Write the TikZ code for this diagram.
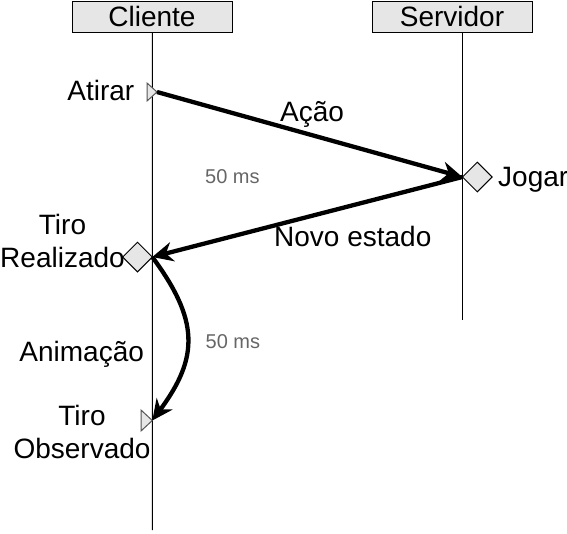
\documentclass[tikz,border=0pt]{standalone}
\usepackage{fontspec}
\setmainfont{Liberation Sans}
\usetikzlibrary{arrows.meta,shapes.geometric}
\definecolor{boxfill}{HTML}{E6E6E6}
\definecolor{msgray}{HTML}{666666}
\definecolor{triline}{HTML}{555555}
\tikzset{
  lbl/.style={font=\fontsize{28}{33}\selectfont, inner sep=0pt, align=center},
  msnote/.style={font=\fontsize{20}{24}\selectfont, text=msgray, inner sep=0pt},
  actor/.style={draw=black, fill=boxfill, minimum width=160pt, minimum height=31pt,
    inner sep=0pt, line width=1pt},
  lifeline/.style={line width=1pt},
  msg/.style={line width=4.3pt, -{Stealth[length=21pt,width=20pt,inset=7pt,line width=0pt]}},
  dia/.style={diamond, draw=black, fill=boxfill, minimum width=30pt, minimum height=30pt,
    inner sep=0pt, line width=1pt},
  tri/.style={draw=triline, fill=boxfill, line width=1pt, line join=miter}
}
\begin{document}
\begin{tikzpicture}[x=1pt,y=-1pt]
\useasboundingbox (0,0) rectangle (567,533);

% actors
\node[actor] (cli) at (152.4,17) {};
\node[actor] (srv) at (452.4,17) {};
\node[lbl, anchor=base] (clitext) at (152,26) {Cliente};
\node[lbl, anchor=base] (srvtext) at (452,26) {Servidor};

% lifelines
\coordinate (clibot) at (152.3,530);
\coordinate (srvtop) at (462.3,32.5);
\coordinate (srvbot) at (462.3,320);
\draw[lifeline] (cli.south) -- (clibot);
\draw[lifeline] (srvtop) -- (srvbot);

% events
\coordinate (atirar) at (157,92);
\coordinate (jogarpt) at (462.3,177);
\coordinate (realpt) at (152.3,257);
\coordinate (obspt) at (152.3,420.5);

\draw[tri] (147,83) -- (atirar) -- (147,101) -- cycle;
\draw[tri] (141,410) -- (obspt) -- (141,431) -- cycle;

% messages
\draw[msg] (atirar) -- (jogarpt);
\draw[msg] (jogarpt) -- (realpt);
\draw[msg] (realpt) .. controls (199,320) and (199,357) .. (obspt);

% diamonds
\node[dia] (jogar) at (477.3,177) {};
\node[dia] (real) at (137.5,257) {};

% labels
\node[lbl, anchor=base east] (latirar) at (134.5,100) {Atirar};
\node[lbl, anchor=base west] (lacao) at (280,121) {Ação};
\node[lbl, anchor=base west] (ljogar) at (498,186) {Jogar};
\node[lbl, anchor=base west] (lnovo) at (274,246) {Novo estado};
\node[lbl, anchor=north] (lreal) at (62.5,214.5) {Tiro\\Realizado};
\node[lbl, anchor=base] (lanim) at (81.7,361) {Animação};
\node[lbl, anchor=north] (lobs) at (82,405.5) {Tiro\\Observado};
\node[msnote, anchor=base west] (ms1) at (205,183) {50 ms};
\node[msnote, anchor=base west] (ms2) at (205.5,348.5) {50 ms};
\end{tikzpicture}
\end{document}
